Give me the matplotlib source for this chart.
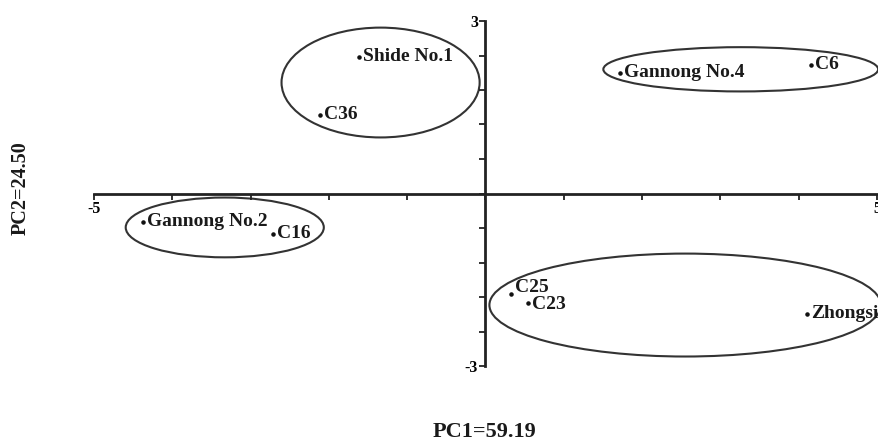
import matplotlib.pyplot as plt
from matplotlib.patches import Ellipse
import numpy as np

plt.rcParams['font.family'] = ['Liberation Serif', 'DejaVu Serif']
plt.rcParams['font.weight'] = 'bold'

names = ['Shide No.1', 'C36', 'Gannong No.2', 'C16', 'Gannong No.4', 'C6', 'C25', 'C23', 'Zhongsi']
pc1 = [-1.62, -2.12, -4.37, -2.72, 1.72, 4.16, 0.32, 0.54, 4.11]
pc2 = [2.38, 1.37, -0.49, -0.70, 2.10, 2.24, -1.74, -1.90, -2.09]

# group ellipses: centre x, centre y, width, height
ell_x = [-1.34, -3.33, 3.26, 2.55]
ell_y = [1.93, -0.59, 2.16, -1.94]
ell_w = [2.53, 2.53, 3.51, 5.0]
ell_h = [1.91, 1.04, 0.77, 1.79]

fig = plt.figure(figsize=(8.79, 4.42), dpi=100)
ax = fig.add_axes([94/879, 76/442, 783/879, 345/442])

ax.set_xlim(-5, 5)
ax.set_ylim(-3, 3)

ax.scatter(pc1, pc2, s=5, color='#111111', zorder=3, clip_on=False)
for n, x, y in zip(names, pc1, pc2):
    # C25 / C23 are close together: nudge them apart a little
    dy = {'C25': 4, 'C23': -1}.get(n, 0)
    ax.annotate(n, (x, y), xytext=(3, dy), textcoords='offset points',
                ha='left', va='center', fontsize=14, fontweight='bold',
                color='#1a1a1a', annotation_clip=False)

for cx, cy, w, h in zip(ell_x, ell_y, ell_w, ell_h):
    ax.add_patch(Ellipse((cx, cy), w, h, fill=False, edgecolor='#333333',
                         lw=1.5, clip_on=False))

ax.spines['left'].set_position('zero')
ax.spines['bottom'].set_position('zero')
ax.spines['right'].set_visible(False)
ax.spines['top'].set_visible(False)
for s in ['left', 'bottom']:
    ax.spines[s].set_linewidth(2)
    ax.spines[s].set_color('#222222')

xt = np.arange(-5, 6, 1)
ax.set_xticks(xt)
ax.set_xticklabels(['-5'] + [''] * 9 + ['5'])
yt = np.linspace(-3, 3, 11)
ax.set_yticks(yt)
ax.set_yticklabels(['-3'] + [''] * 9 + ['3'])
ax.tick_params(direction='out', length=4, width=1.3, color='#222222',
               labelsize=11.5, pad=1.5)
for lab in ax.get_xticklabels() + ax.get_yticklabels():
    lab.set_fontweight('bold')

fig.text(484/879, 1 - 432/442, 'PC1=59.19', ha='center', va='center',
         fontsize=16, fontweight='bold', color='#1a1a1a')
fig.text(21/879, 1 - 188/442, 'PC2=24.50', ha='center', va='center',
         rotation=90, fontsize=14.5, fontweight='bold', color='#1a1a1a')

fig.savefig('out.png', dpi=100)
